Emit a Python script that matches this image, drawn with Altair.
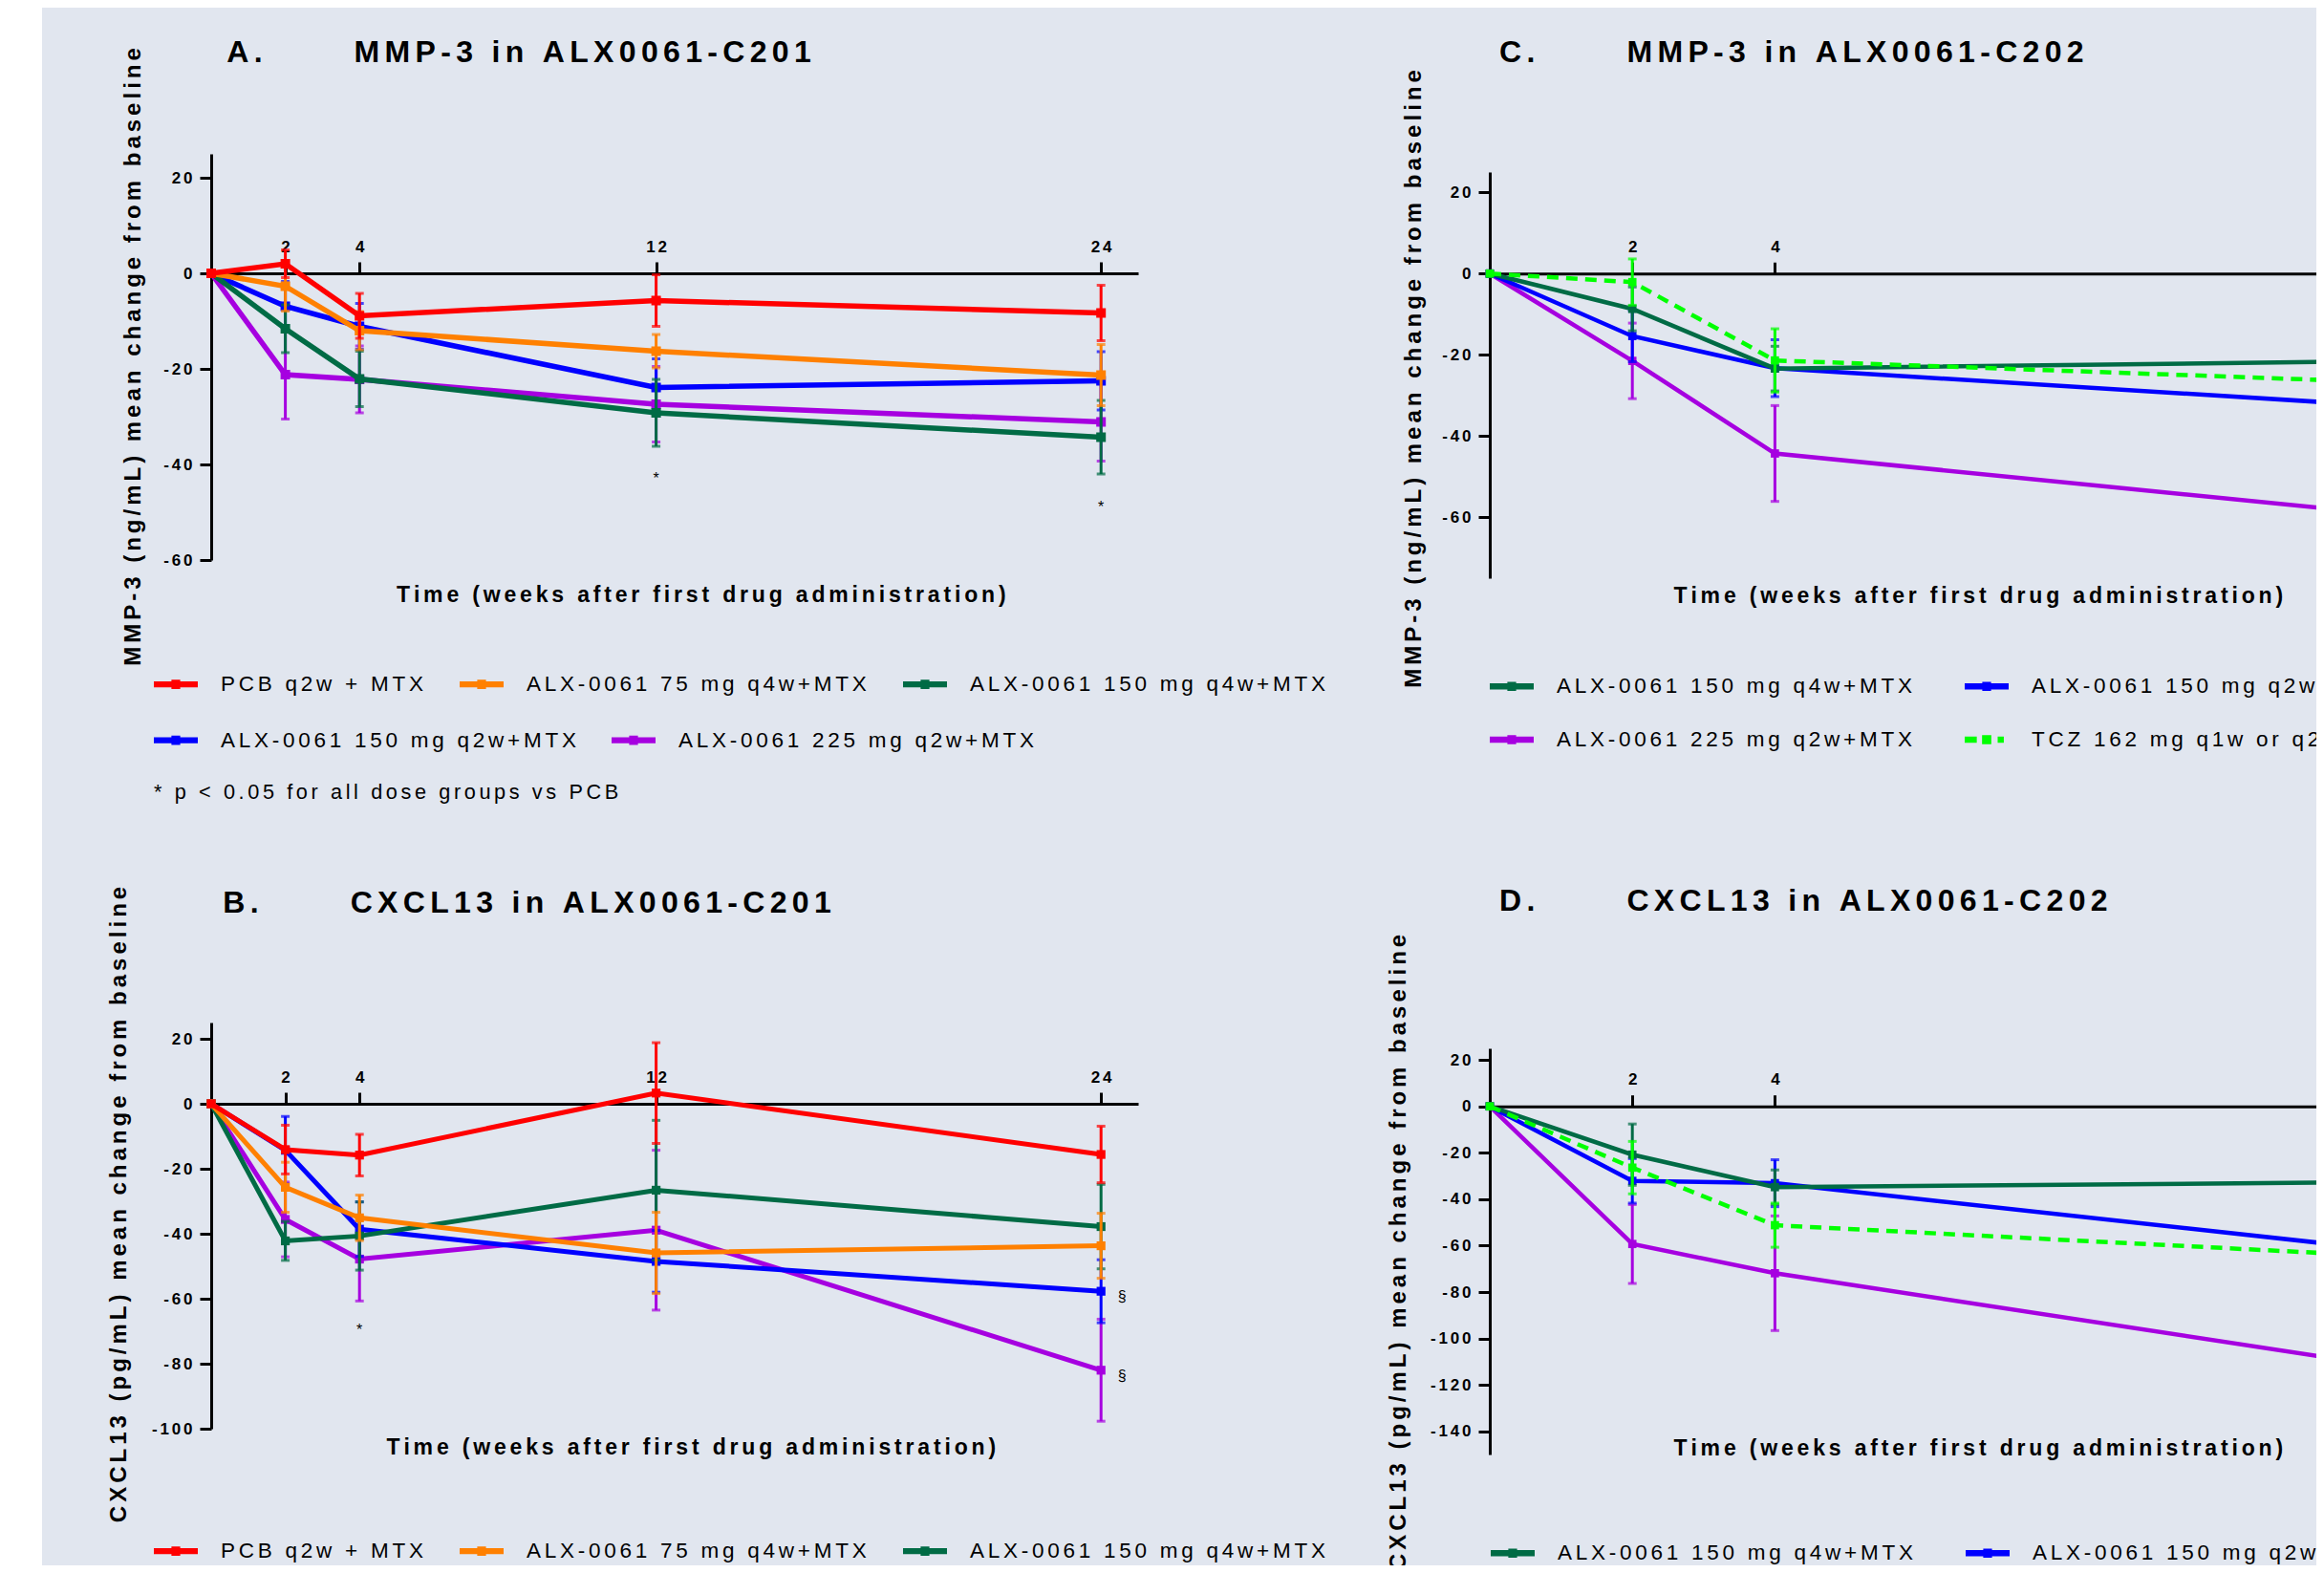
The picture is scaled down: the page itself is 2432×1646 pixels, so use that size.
import altair as alt
import pandas as pd

FONT = "Liberation Sans"
BG = "#E1E6EF"
SP = "\u2006"   # six-per-em space, imitates the wide letter spacing of the original
EM = "\u2003"


def spaced(s):
    return SP.join(s)


LBL_EXPR = "join(split('' + datum.value, ''), '\u2006')"
LEG_EXPR = "join(split(datum.label, ''), '\u2006')"

# ---------------- series / colours ----------------
SERIES_C201 = ["PCB q2w + MTX", "ALX-0061 75 mg q4w+MTX", "ALX-0061 150 mg q4w+MTX",
               "ALX-0061 150 mg q2w+MTX", "ALX-0061 225 mg q2w+MTX"]
COLORS_C201 = ["#FF0000", "#FF8000", "#006B45", "#0000FF", "#A600E0"]
DRAW_C201 = ["ALX-0061 225 mg q2w+MTX", "ALX-0061 150 mg q2w+MTX", "ALX-0061 150 mg q4w+MTX",
             "ALX-0061 75 mg q4w+MTX", "PCB q2w + MTX"]

SERIES_C202 = ["ALX-0061 150 mg q4w+MTX", "ALX-0061 150 mg q2w+MTX",
               "ALX-0061 225 mg q2w+MTX", "TCZ 162 mg q1w or q2w"]
COLORS_C202 = ["#006B45", "#0000FF", "#A600E0", "#00FF00"]
DRAW_C202 = ["ALX-0061 225 mg q2w+MTX", "ALX-0061 150 mg q2w+MTX",
             "ALX-0061 150 mg q4w+MTX", "TCZ 162 mg q1w or q2w"]

WEEKS_C201 = [0, 2, 4, 12, 24]
WEEKS_C202 = [0, 2, 4, 12]
X_TICKS = [2, 4, 12, 24]

# ---------------- A: MMP-3 in ALX0061-C201 ----------------
MMP3_C201_MEAN = [
    [0, 2.0, -8.9, -5.7, -8.3],
    [0, -2.7, -12.0, -16.3, -21.3],
    [0, -11.6, -22.1, -29.2, -34.3],
    [0, -6.9, -11.1, -23.9, -22.5],
    [0, -21.2, -22.2, -27.4, -31.1],
]
MMP3_C201_ERR = [
    [0, 2.9, 4.7, 5.4, 5.8],
    [0, 5.2, 4.0, 3.5, 6.4],
    [0, 5.0, 5.8, 7.0, 7.7],
    [0, 5.2, 4.8, 6.0, 6.1],
    [0, 9.3, 7.0, 7.9, 8.2],
]
MMP3_C201_STAR_X = [12, 24]
MMP3_C201_STAR_Y = [-42, -48]

# ---------------- B: CXCL13 in ALX0061-C201 ----------------
CXCL13_C201_MEAN = [
    [0, -14.1, -15.8, 3.3, -15.6],
    [0, -25.7, -35.1, -45.9, -43.7],
    [0, -42.2, -40.7, -26.6, -37.8],
    [0, -14.3, -38.6, -48.5, -57.7],
    [0, -35.6, -47.8, -38.9, -82.0],
]
CXCL13_C201_ERR = [
    [0, 7.5, 6.4, 15.5, 8.7],
    [0, 7.7, 7.0, 12.5, 10.0],
    [0, 6.0, 10.5, 21.5, 13.0],
    [0, 10.4, 8.4, 9.5, 9.7],
    [0, 11.5, 12.9, 24.6, 15.7],
]
CXCL13_C201_STAR_X = [4]
CXCL13_C201_STAR_Y = [-68.3]
CXCL13_C201_SECT_X = [24, 24]
CXCL13_C201_SECT_Y = [-59.5, -83.8]

# ---------------- C: MMP-3 in ALX0061-C202 ----------------
MMP3_C202_MEAN = [
    [0, -8.7, -23.4, -21.7],
    [0, -15.4, -23.3, -32.0],
    [0, -21.5, -44.3, -58.3],
    [0, -2.1, -21.4, -26.4],
]
MMP3_C202_ERR = [
    [0, 5.4, 5.5, None],
    [0, 6.3, 7.0, None],
    [0, 9.3, 11.8, None],
    [0, 5.7, 7.8, None],
]

# ---------------- D: CXCL13 in ALX0061-C202 ----------------
CXCL13_C202_MEAN = [
    [0, -20.8, -34.8, -32.8],
    [0, -32.1, -33.1, -60.0],
    [0, -59.3, -71.9, -109.4],
    [0, -26.4, -51.2, -63.7],
]
CXCL13_C202_ERR = [
    [0, 13.2, 7.4, None],
    [0, 9.6, 10.1, None],
    [0, 17.0, 24.7, None],
    [0, 11.3, 9.5, None],
]

TIME_TITLE = "Time (weeks after first drug administration)"
NOTE_A = "* p < 0.05 for all dose groups vs PCB"

SYM_SOLID = "M-1,-0.14H1V0.14H-1Z M-0.2,-0.21H0.2V0.21H-0.2Z"
SYM_DASH = "M-1,-0.14H-0.45V0.14H-1Z M-0.21,-0.21H0.21V0.21H-0.21Z M0.5,-0.14H0.78V0.14H0.5Z"


def make_df(series, weeks, means, errs, order):
    rows = []
    for s in order:
        i = series.index(s)
        for j, w in enumerate(weeks):
            m = means[i][j]
            e = errs[i][j]
            rows.append({"series": s, "week": w, "mean": m,
                         "lo": (m - e) if e else None, "hi": (m + e) if e else None})
    return pd.DataFrame(rows)


def legend_params(p, x, y, cols, colpad, note=None, symbol=None):
    kw = dict(
        orient="none", legendX=x, legendY=y, direction="horizontal",
        columns=cols, symbolSize=2116, symbolStrokeWidth=0,
        labelFont=FONT, labelFontSize=22.5, labelFontWeight="normal",
        labelColor="black", labelOffset=24, labelLimit=3000, labelExpr=LEG_EXPR,
        columnPadding=colpad, rowPadding=p.get("leg_rowpad", 10), padding=0)
    if symbol:
        kw["symbolType"] = symbol
    if note:
        return alt.Legend(title=spaced(note), titleOrient="bottom", titleFont=FONT,
                          titleFontSize=21.7, titleFontWeight="normal", titleColor="black",
                          titlePadding=33, titleAnchor="start", titleLimit=3000, **kw)
    return alt.Legend(title=None, **kw)


def panel(p):
    series, colors = p["series"], p["colors"]
    df = make_df(series, p["weeks"], p["means"], p["errs"], p["order"])

    ydom = p["ydom"]
    H, W = p["height"], p["width"]
    zero_px = H * ydom[1] / (ydom[1] - ydom[0])

    xs = alt.Scale(domain=[0, 25], nice=False, zero=False)
    ys = alt.Scale(domain=ydom, nice=False, zero=False)

    top_axis = alt.Axis(
        orient="top", offset=-zero_px, values=X_TICKS, tickSize=12, tickWidth=3,
        tickColor="black", domainWidth=3, domainColor="black",
        labelFont=FONT, labelFontSize=17, labelFontWeight="bold", labelColor="black",
        labelPadding=7, labelAngle=0, labelExpr=LBL_EXPR, labelFlush=False,
        labelOverlap=False, grid=False,
        title=p["title"], titleFont=FONT, titleFontSize=32, titleFontWeight="bold",
        titleColor="black", titleX=p["title_x"], titleY=p["title_y"] - zero_px,
        titleAlign="left", titleBaseline="alphabetic", titleAngle=0, titleLimit=3000)
    bottom_axis = alt.Axis(
        orient="bottom", domain=False, ticks=False, labels=False, grid=False,
        title=spaced(TIME_TITLE), titleFont=FONT, titleFontSize=23, titleFontWeight="bold",
        titleColor="black", titleX=p["time_x"], titleY=p["time_y"], titleAlign="left",
        titleBaseline="alphabetic", titleAngle=0, titleLimit=3000)
    y_axis = alt.Axis(
        values=p["yticks"], tickSize=12, tickWidth=3, tickColor="black",
        domainWidth=3, domainColor="black",
        labelFont=FONT, labelFontSize=17, labelFontWeight="bold", labelColor="black",
        labelPadding=8, labelExpr=LBL_EXPR, labelOverlap=False, grid=False,
        title=spaced(p["ytitle"]), titleFont=FONT, titleFontSize=24, titleFontWeight="bold",
        titleColor="black", titleAngle=270, titleX=p["ytitle_x"], titleY=p["ytitle_y"],
        titleAlign="center", titleBaseline="middle", titleLimit=3000)

    x_none = alt.X("week:Q", scale=xs, axis=None)

    def yenc(field):
        return alt.Y(field, scale=ys, axis=y_axis)

    layers = []
    # one group of layers per series, drawn in the order of the original
    for s in p["order"]:
        col = colors[series.index(s)]
        sdf = df[df["series"] == s]
        edf = sdf.dropna(subset=["lo"])
        if len(edf):
            cdf = pd.concat([
                edf[["week", "lo"]].rename(columns={"lo": "v"}),
                edf[["week", "hi"]].rename(columns={"hi": "v"}),
            ], ignore_index=True)
            layers.append(alt.Chart(edf).mark_rule(strokeWidth=3, color=col).encode(
                x=x_none, y=yenc("lo:Q"), y2="hi:Q"))
            layers.append(alt.Chart(cdf).mark_tick(orient="horizontal", thickness=3, size=9,
                                                   color=col).encode(x=x_none, y=yenc("v:Q")))
        line_kw = dict(strokeWidth=p["lw"], color=col)
        if s.startswith("TCZ"):
            line_kw["strokeDash"] = [12, 8]
        layers.append(alt.Chart(sdf).mark_line(**line_kw).encode(x=x_none, y=yenc("mean:Q")))
        layers.append(alt.Chart(sdf).mark_point(shape="square", filled=True, size=p["psize"],
                                                opacity=1, color=col).encode(
            x=x_none, y=yenc("mean:Q")))

    if p.get("star_x"):
        sdf = pd.DataFrame({"week": p["star_x"], "y": p["star_y"], "t": ["*"] * len(p["star_x"])})
        layers.append(alt.Chart(sdf).mark_text(font=FONT, fontSize=16, color="black",
                                               baseline="middle", dy=5).encode(
            x=x_none, y=yenc("y:Q"), text="t:N"))
    if p.get("sect_x"):
        qdf = pd.DataFrame({"week": p["sect_x"], "y": p["sect_y"], "t": ["§"] * len(p["sect_x"])})
        layers.append(alt.Chart(qdf).mark_text(font=FONT, fontSize=16, color="black",
                                               baseline="middle", dx=22).encode(
            x=x_none, y=yenc("y:Q"), text="t:N"))

    empty = alt.Chart(df).transform_filter("false")
    if p["split_legend"]:
        # legend in two independent rows (the original is not grid aligned)
        r1, r2 = series[:3], series[3:]
        leg1 = legend_params(p, p["leg_x"], p["leg_y"], 3, 38, symbol=SYM_SOLID)
        leg2 = legend_params(p, p["leg_x"], p["leg_y"] + 58.5, 2, 37, note=p.get("note"),
                             symbol=SYM_SOLID)
        layers.append(empty.mark_point(filled=True, opacity=1).encode(
            x=alt.X("week:Q", scale=xs, axis=top_axis), y=yenc("mean:Q"),
            color=alt.Color("series:N", scale=alt.Scale(domain=r1, range=colors[:3]),
                            legend=leg1)))
        layers.append(empty.mark_point(filled=True, opacity=1).encode(
            x=x_none, y=yenc("mean:Q"),
            fill=alt.Fill("series:N", scale=alt.Scale(domain=r2, range=colors[3:]),
                          legend=leg2)))
    else:
        leg = legend_params(p, p["leg_x"], p["leg_y"], 2, 55)
        shape_range = [SYM_DASH if s.startswith("TCZ") else SYM_SOLID for s in series]
        layers.append(empty.mark_point(filled=True, opacity=1).encode(
            x=alt.X("week:Q", scale=xs, axis=top_axis), y=yenc("mean:Q"),
            color=alt.Color("series:N", scale=alt.Scale(domain=series, range=colors), legend=leg),
            shape=alt.Shape("series:N", scale=alt.Scale(domain=series, range=shape_range),
                            legend=leg)))
    # carrier of the bottom x-axis title
    layers.append(empty.mark_point().encode(
        x=alt.X("week:Q", scale=xs, axis=bottom_axis), y=yenc("mean:Q")))

    return alt.layer(*layers).resolve_axis(x="independent").properties(width=W, height=H)


def ptitle(letter, text):
    return spaced(letter) + EM + EM + EM + spaced(text)


common201 = dict(series=SERIES_C201, colors=COLORS_C201, weeks=WEEKS_C201, order=DRAW_C201,
                 width=970, height=425, split_legend=True)
common202 = dict(series=SERIES_C202, colors=COLORS_C202, weeks=WEEKS_C202, order=DRAW_C202,
                 width=1865, height=425, split_legend=False, leg_rowpad=21)

A = panel(dict(common201, means=MMP3_C201_MEAN, errs=MMP3_C201_ERR, ydom=[-60, 25],
               yticks=[-60, -40, -20, 0, 20], lw=5.5, psize=100,
               title=ptitle("A.", "MMP-3 in ALX0061-C201"), title_x=15.7, title_y=-96.7,
               ytitle="MMP-3 (ng/mL) mean change from baseline", ytitle_x=-82, ytitle_y=212,
               time_x=193.5, time_y=43, leg_x=-60, leg_y=531.9, note=NOTE_A,
               star_x=MMP3_C201_STAR_X, star_y=MMP3_C201_STAR_Y))
B = panel(dict(common201, means=CXCL13_C201_MEAN, errs=CXCL13_C201_ERR, ydom=[-100, 25],
               yticks=[-100, -80, -60, -40, -20, 0, 20], lw=5, psize=85,
               title=ptitle("B.", "CXCL13 in ALX0061-C201"), title_x=11.8, title_y=-116,
               ytitle="CXCL13 (pg/mL) mean change from baseline", ytitle_x=-97, ytitle_y=190,
               time_x=183, time_y=26.7, leg_x=-60, leg_y=529.9,
               star_x=CXCL13_C201_STAR_X, star_y=CXCL13_C201_STAR_Y,
               sect_x=CXCL13_C201_SECT_X, sect_y=CXCL13_C201_SECT_Y))
C = panel(dict(common202, means=MMP3_C202_MEAN, errs=MMP3_C202_ERR, ydom=[-75, 25],
               yticks=[-60, -40, -20, 0, 20], lw=4.5, psize=75,
               title=ptitle("C.", "MMP-3 in ALX0061-C202"), title_x=9.6, title_y=-115.5,
               ytitle="MMP-3 (ng/mL) mean change from baseline", ytitle_x=-80, ytitle_y=216,
               time_x=192, time_y=25, leg_x=0, leg_y=515))
D = panel(dict(common202, means=CXCL13_C202_MEAN, errs=CXCL13_C202_ERR, ydom=[-150, 25],
               yticks=[-140, -120, -100, -80, -60, -40, -20, 0, 20], lw=4.5, psize=75,
               title=ptitle("D.", "CXCL13 in ALX0061-C202"), title_x=9.6, title_y=-144.7,
               ytitle="CXCL13 (pg/mL) mean change from baseline", ytitle_x=-96, ytitle_y=213,
               time_x=192, time_y=0.5, leg_x=1, leg_y=505))


def blank(w, h, fill=None):
    c = alt.Chart(pd.DataFrame({"v": [0]})).mark_point(opacity=0).encode(
        x=alt.X("v:Q", axis=None), y=alt.Y("v:Q", axis=None))
    if fill:
        return c.properties(width=w, height=h, view=alt.ViewBackground(fill=fill, stroke=None))
    return c.properties(width=w, height=h)


RES = dict(color="independent", shape="independent", fill="independent")

left = alt.vconcat(A, B, spacing=484, bounds="flush").resolve_scale(**RES)
right_inner = alt.vconcat(C, D, spacing=492, bounds="flush").resolve_scale(**RES)
right = alt.vconcat(blank(40, 18.6), right_inner, spacing=0, bounds="flush").resolve_scale(**RES)

# nested flush groups count as zero size, so spacings are distances between left/top edges
grid = alt.hconcat(left, right, spacing=1338, bounds="flush").resolve_scale(**RES)
content = alt.vconcat(blank(40, 152.7), grid, spacing=0, bounds="flush").resolve_scale(**RES)
chart = alt.hconcat(blank(36, 1700, fill="white"), content, spacing=177,
                    bounds="flush").resolve_scale(**RES).properties(
    autosize=alt.AutoSizeParams(type="none"),
    padding={"left": 0, "top": 0, "right": 2416, "bottom": 1630},
    background=BG,
).configure(font=FONT).configure_view(stroke=None)

chart.save("out.html", embed_options={"renderer": "svg", "actions": False})
